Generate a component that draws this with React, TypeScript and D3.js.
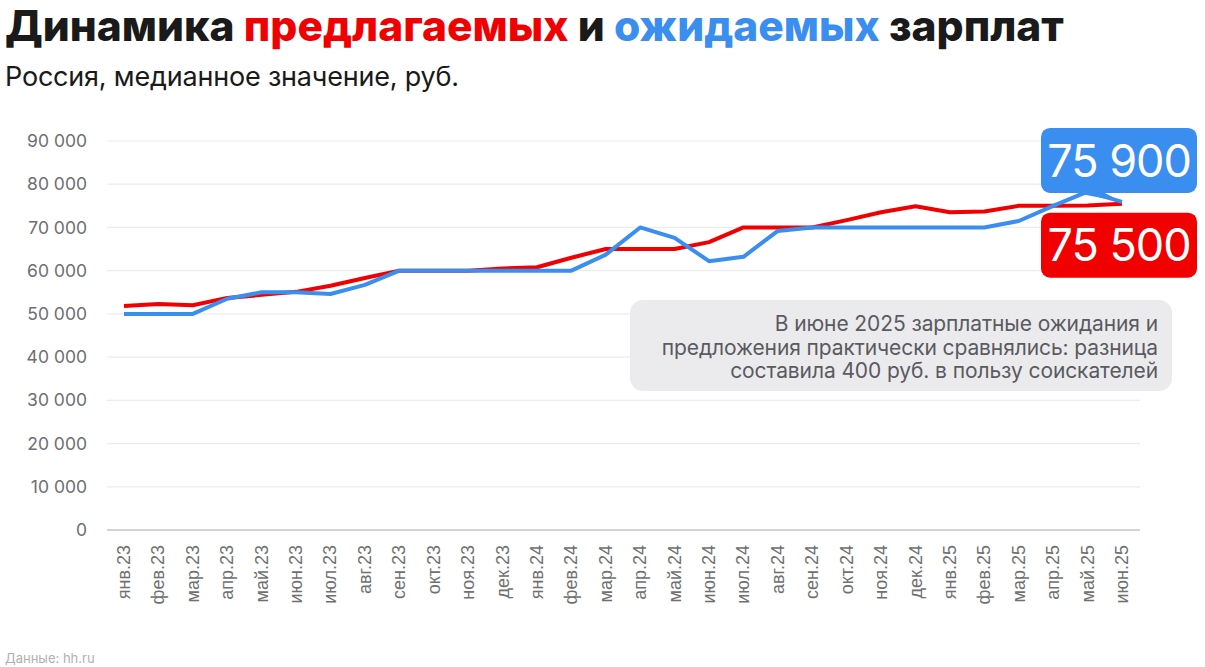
import React from 'react'
import * as d3 from 'd3'

const months = [
  'янв.23', 'фев.23', 'мар.23', 'апр.23', 'май.23', 'июн.23', 'июл.23', 'авг.23', 'сен.23', 'окт.23',
  'ноя.23', 'дек.23', 'янв.24', 'фев.24', 'мар.24', 'апр.24', 'май.24', 'июн.24', 'июл.24', 'авг.24',
  'сен.24', 'окт.24', 'ноя.24', 'дек.24', 'янв.25', 'фев.25', 'мар.25', 'апр.25', 'май.25', 'июн.25',
]

// предлагаемые зарплаты (вакансии)
const offered = [
  51800, 52300, 52000, 53700, 54400, 55100, 56500, 58300, 60000, 60000,
  60000, 60500, 60800, 63000, 65000, 65000, 65000, 66600, 70000, 70000,
  70000, 71700, 73500, 74900, 73500, 73700, 75000, 75000, 75100, 75500,
]

// ожидаемые зарплаты (резюме)
const expected = [
  50000, 50000, 50000, 53500, 55000, 55000, 54600, 56700, 60000, 60000,
  60000, 60000, 60000, 60000, 63700, 70000, 67600, 62200, 63200, 69200,
  70000, 70000, 70000, 70000, 70000, 70000, 71500, 75000, 78300, 75900,
]

const yTicks = [0, 10000, 20000, 30000, 40000, 50000, 60000, 70000, 80000, 90000]

const noteLines = [
  'В июне 2025 зарплатные ожидания и',
  'предложения практически сравнялись: разница',
  'составила 400 руб. в пользу соискателей',
]

const RED = '#f00000'
const BLUE = '#3a8ef0'
const font = 'Inter, "Noto Sans", sans-serif'

const fmt = (v: number) => d3.format(',')(v).replace(/,/g, ' ')

export default function App() {
  const width = 1205
  const height = 667

  const x = d3.scalePoint<string>().domain(months).range([124, 1122])
  const y = d3.scaleLinear().domain([0, 90000]).range([530, 141])

  const line = d3.line<number>()
    .x((d, i) => x(months[i]) as number)
    .y(d => y(d))

  const lastX = x(months[months.length - 1]) as number
  const lastBlue = expected[expected.length - 1]
  const lastRed = offered[offered.length - 1]

  // плашки с последними значениями
  const boxX = 1041
  const boxW = 156
  const boxH = 65
  const blueBoxY = y(lastBlue) - 74
  const redBoxY = y(lastRed) + 9

  return (
    <svg width={width} height={height} style={{position: 'absolute', left: 0, top: 0, background: '#fff'}}>
      <text x={5} y={41} fontFamily={font} fontWeight={800} fontSize={42.5} fill="#1a1a1a" letterSpacing={0}>
        Динамика <tspan fill={RED}>предлагаемых</tspan> и <tspan fill={BLUE}>ожидаемых</tspan> зарплат
      </text>
      <text x={5} y={86} fontFamily={font} fontSize={27} fill="#1a1a1a" letterSpacing={-0.2}>
        Россия, медианное значение, руб.
      </text>

      {yTicks.map(t => (
        <g key={t}>
          <line x1={107} x2={1140} y1={y(t)} y2={y(t)} stroke={t === 0 ? '#c4c4c4' : '#ececec'} strokeWidth={t === 0 ? 1.5 : 1.2} />
          <text x={87} y={y(t)} dy="0.35em" textAnchor="end" fontFamily={font} fontSize={17.5} fill="#6e6e73">
            {fmt(t)}
          </text>
        </g>
      ))}

      {months.map(m => (
        <text key={m} transform={`translate(${(x(m) as number) + 6},545) rotate(-90)`} textAnchor="end"
          fontFamily='"Liberation Sans", Arial, sans-serif' fontSize={18} fill="#707070">
          {m}
        </text>
      ))}

      <path d={line(offered) as string} fill="none" stroke={RED} strokeWidth={4} strokeLinejoin="round" />
      <path d={line(expected) as string} fill="none" stroke={BLUE} strokeWidth={4} strokeLinejoin="round" />

      <rect x={630} y={300} width={542} height={91} rx={13} fill="#ebebee" />
      {noteLines.map((s, i) => (
        <text key={i} x={1158} y={331 + i * 23.5} textAnchor="end" fontFamily={font} fontSize={21} fill="#5a5a60" letterSpacing={-0.1}>
          {s}
        </text>
      ))}

      <rect x={boxX} y={blueBoxY} width={boxW} height={boxH} rx={9} fill={BLUE} />
      <path d={`M${boxX + 30},${blueBoxY + boxH - 1} L${boxX + 62},${blueBoxY + boxH - 1} L${lastX},${y(lastBlue)} Z`} fill={BLUE} />
      <text x={boxX + boxW / 2} y={blueBoxY + boxH / 2} dy="0.36em" textAnchor="middle" fontFamily={font} fontSize={45} fill="#fff" letterSpacing={-1}>
        {fmt(lastBlue)}
      </text>

      <rect x={boxX} y={redBoxY} width={boxW} height={boxH} rx={9} fill={RED} />
      <text x={boxX + boxW / 2} y={redBoxY + boxH / 2} dy="0.36em" textAnchor="middle" fontFamily={font} fontSize={45} fill="#fff" letterSpacing={-1}>
        {fmt(lastRed)}
      </text>

      <text x={5} y={663} fontFamily={font} fontSize={13} fill="#b0b0b0">Данные: hh.ru</text>
    </svg>
  )
}
